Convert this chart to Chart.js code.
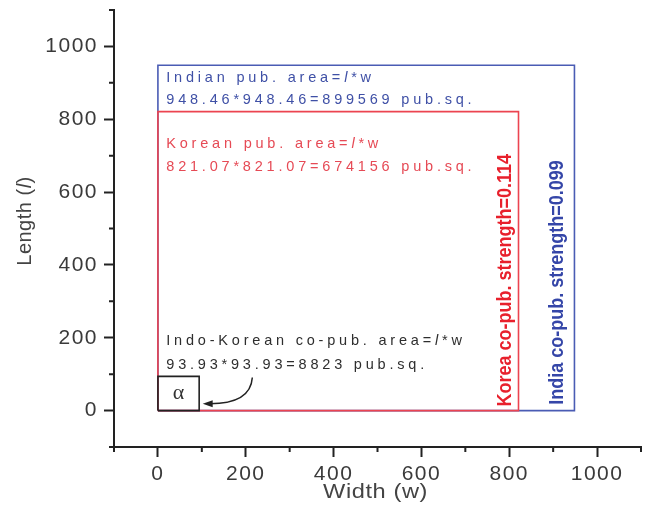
<!DOCTYPE html>
<html>
<head>
<meta charset="utf-8">
<title>Indo-Korean co-publication areas</title>
<script src="https://cdn.jsdelivr.net/npm/chart.js@4.4.1/dist/chart.umd.min.js"></script>
<style>
  html, body { margin: 0; padding: 0; background: #fff; }
</style>
</head>
<body>
<canvas id="chart" width="649" height="506"></canvas>
<script>
// Square sides (l = w)
const seriesNames = ['Indo-Korean', 'Korean', 'Indian'];
const sides = [93.93, 821.07, 948.46];
const strengths = ['Korea co-pub. strength=0.114', 'India co-pub. strength=0.099'];
const areaLines = [
  ['Indo-Korean co-pub. area=', '93.93*93.93=8823 pub.sq.'],
  ['Korean pub. area=', '821.07*821.07=674156 pub.sq.'],
  ['Indian pub. area=', '948.46*948.46=899569 pub.sq.']
];
const xTicks = [0, 200, 400, 600, 800, 1000];
const yTicks = [0, 200, 400, 600, 800, 1000];
const minorTicks = [-100, 100, 300, 500, 700, 900, 1100];

const FONT = '"Liberation Sans", Arial, sans-serif';
const colors = ['#222222', '#ec4450', '#4a5cb4'];
const textColors = ['#2e2e2e', '#e64a55', '#3f50a6'];
const boldColors = ['#e8202c', '#3546a8'];

function square(s) {
  return [{ x: 0, y: 0 }, { x: s, y: 0 }, { x: s, y: s }, { x: 0, y: s }, { x: 0, y: 0 }];
}

// draws text parts, [text, italic], left to right
function drawParts(ctx, parts, x, y, size) {
  let cx = x;
  parts.forEach(([t, it]) => {
    ctx.font = `${it ? 'italic ' : ''}${size}px ${FONT}`;
    ctx.fillText(t, cx, y);
    cx += ctx.measureText(t).width;
  });
}

function partsWidth(ctx, parts, size) {
  return parts.reduce((w, [t, it]) => {
    ctx.font = `${it ? 'italic ' : ''}${size}px ${FONT}`;
    return w + ctx.measureText(t).width;
  }, 0);
}

const extras = {
  id: 'extras',
  beforeDraw(chart) {
    chart.ctx.letterSpacing = '1.5px';
  },
  afterDatasetsDraw(chart) {
    const { ctx, scales: { x, y } } = chart;
    const px = v => x.getPixelForValue(v);
    const py = v => y.getPixelForValue(v);

    ctx.save();
    ctx.textBaseline = 'middle';
    ctx.textAlign = 'left';
    ctx.letterSpacing = '3.8px';

    // area labels: [series index, y of line 1, y of line 2]
    const spots = [[0, 190, 124], [1, 731, 668], [2, 912, 852]];
    spots.forEach(([i, y1, y2]) => {
      ctx.fillStyle = textColors[i];
      drawParts(ctx, [[areaLines[i][0], 0], ['l', 1], ['*w', 0]], px(19), py(y1), 14.5);
      drawParts(ctx, [[areaLines[i][1], 0]], px(19), py(y2), 14.5);
    });

    // vertical strength labels
    ctx.letterSpacing = '0px';
    ctx.textBaseline = 'alphabetic';
    ctx.font = `bold 20px ${FONT}`;
    [[803, 11], [923, 16]].forEach(([vx, vy], i) => {
      ctx.save();
      ctx.translate(px(vx), py(vy));
      ctx.rotate(-Math.PI / 2);
      ctx.scale(0.9, 1);
      ctx.fillStyle = boldColors[i];
      ctx.fillText(strengths[i], 0, 0);
      ctx.restore();
    });

    // alpha in the overlap square
    ctx.fillStyle = '#333';
    ctx.textAlign = 'center';
    ctx.textBaseline = 'middle';
    ctx.font = '22px "Liberation Serif", serif';
    ctx.fillText('\u03b1', px(sides[0] / 2), py(sides[0] / 2));

    // curved arrow from the label to the square
    const tipX = px(102), tipY = py(19);
    ctx.strokeStyle = '#222';
    ctx.lineWidth = 1.5;
    ctx.beginPath();
    ctx.moveTo(px(215), py(91));
    ctx.quadraticCurveTo(px(211), py(19), tipX + 7, tipY);
    ctx.stroke();
    ctx.fillStyle = '#222';
    ctx.beginPath();
    ctx.moveTo(tipX, tipY);
    ctx.lineTo(tipX + 10, tipY - 3.5);
    ctx.lineTo(tipX + 10, tipY + 3.5);
    ctx.closePath();
    ctx.fill();
    ctx.restore();
  },
  afterDraw(chart) {
    const { ctx, chartArea, scales: { x, y } } = chart;
    ctx.save();
    ctx.strokeStyle = '#222';
    ctx.lineWidth = 2;
    ctx.beginPath();
    minorTicks.forEach(v => {
      const xp = x.getPixelForValue(v);
      ctx.moveTo(xp, chartArea.bottom);
      ctx.lineTo(xp, chartArea.bottom + 5);
      const yp = y.getPixelForValue(v);
      ctx.moveTo(chartArea.left, yp);
      ctx.lineTo(chartArea.left - 5, yp);
    });
    ctx.stroke();

    // axis titles
    ctx.fillStyle = '#444';
    ctx.textBaseline = 'middle';
    ctx.textAlign = 'left';
    ctx.letterSpacing = '0.5px';
    const yTitle = [['Length (', 0], ['l', 1], [')', 0]];
    ctx.save();
    ctx.translate(25, 221);
    ctx.rotate(-Math.PI / 2);
    drawParts(ctx, yTitle, -partsWidth(ctx, yTitle, 20) / 2, 0, 20);
    ctx.restore();

    const xTitle = [['Width (w)', 0]];
    ctx.save();
    ctx.translate((chartArea.left + chartArea.right) / 2 - 2, 492);
    ctx.scale(1.18, 1);
    drawParts(ctx, xTitle, -partsWidth(ctx, xTitle, 20) / 2, 0, 20);
    ctx.restore();
    ctx.restore();
  }
};

function axis(values, fit) {
  return {
    type: 'linear',
    min: -100,
    max: 1100,
    afterFit: fit,
    border: { color: '#222', width: 2 },
    grid: {
      drawOnChartArea: false,
      drawTicks: true,
      tickLength: 10,
      tickWidth: 2,
      tickColor: c => values.includes(c.tick.value) ? '#222' : 'rgba(0,0,0,0)'
    },
    ticks: {
      stepSize: 100,
      autoSkip: false,
      maxRotation: 0,
      color: '#3a3a3a',
      font: { family: FONT, size: 21 },
      callback: v => values.includes(v) ? v : ''
    }
  };
}

function initChart() {
  const xScale = axis(xTicks, s => {
    s.height = 59;
    s.paddingLeft = 0;
    s.paddingRight = 0;
  });
  xScale.ticks.padding = 5;
  const yScale = axis(yTicks, s => {
    s.width = 114;
    s.paddingTop = 0;
    s.paddingBottom = 0;
  });
  yScale.ticks.padding = 6;

  new Chart(document.getElementById('chart'), {
    type: 'scatter',
    data: {
      datasets: sides.map((s, i) => ({
        label: seriesNames[i],
        data: square(s),
        showLine: true,
        borderColor: colors[i],
        borderWidth: 1.6,
        pointRadius: 0,
        tension: 0,
        fill: false,
        order: i + 1
      }))
    },
    options: {
      responsive: false,
      animation: false,
      layout: { padding: { left: 0, top: 10, right: 8, bottom: 0 } },
      plugins: { legend: { display: false }, tooltip: { enabled: false } },
      scales: { x: xScale, y: yScale }
    },
    plugins: [extras]
  });
}

document.addEventListener('DOMContentLoaded', initChart);
</script>
</body>
</html>
